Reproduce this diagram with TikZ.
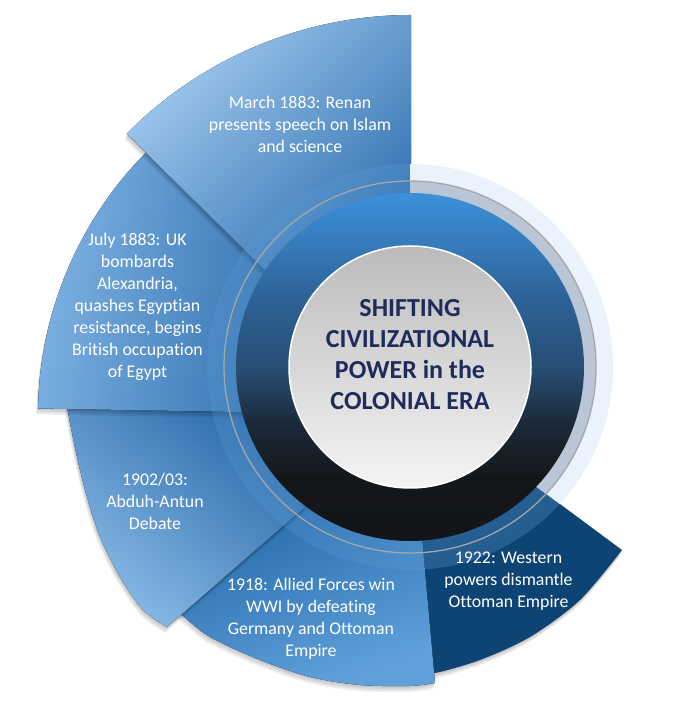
\documentclass[tikz,border=0pt]{standalone}
\usepackage{fontspec}
\setmainfont{Carlito}[RawFeature={-liga}]
\definecolor{ddA}{HTML}{131518}
\definecolor{ddB}{HTML}{141719}
\definecolor{ddC}{HTML}{1B2A3A}
\definecolor{ddD}{HTML}{274F75}
\definecolor{ddE}{HTML}{2D6296}
\definecolor{ddF}{HTML}{3579B8}
\definecolor{ddG}{HTML}{3C90DA}
\pgfdeclareverticalshading{darkdisk}{100bp}{color(0bp)=(ddA); color(25bp)=(ddA); color(34bp)=(ddB); color(42bp)=(ddC); color(50bp)=(ddD); color(60bp)=(ddE); color(67bp)=(ddF); color(75bp)=(ddG); color(100bp)=(ddG)}
\definecolor{navy}{HTML}{1F2B5B}
\definecolor{paleblue}{HTML}{EAF2FC}
\definecolor{grayband}{HTML}{BAC6D6}
\definecolor{grayline}{HTML}{A6A6A6}
\definecolor{bandblue}{HTML}{5B9BD5}
\definecolor{sfive}{HTML}{0E4474}
\definecolor{sonelight}{HTML}{9CC6EC}
\definecolor{sonedark}{HTML}{1358A0}
\definecolor{stwolight}{HTML}{7DB1E2}
\definecolor{sdark}{HTML}{11559A}
\definecolor{sthreelight}{HTML}{86B7E4}
\definecolor{sfourlight}{HTML}{5FA0DA}
\definecolor{sfourdark}{HTML}{0F5597}
\definecolor{innertop}{HTML}{BBBBBB}
\definecolor{innerbot}{HTML}{F4F4F4}
\tikzset{
  evt/.style={text=white, align=center, inner sep=0pt, font=\fontsize{17.8}{22}\selectfont},
  titletext/.style={text=navy, align=center, inner sep=0pt, font=\fontsize{26}{31}\selectfont\bfseries},
  shad/.style={fill=black, opacity=0.06},
}
\newcommand{\secOne}{(411,302) -- (411,702) arc[start angle=90, end angle=135.3, radius=400] -- cycle}
\newcommand{\secTwo}{(411,302) -- ([shift={(133:373)}]411,302) arc[start angle=133, end angle=179, radius=373] -- cycle}
\newcommand{\secThree}{(411,302) -- plot[smooth] coordinates {(67,318) (68,305) (77,260) (87,220) (100,180) (120,140) (143,107) (167,90)} -- cycle}
\newcommand{\secFour}{(411,302) -- plot[smooth] coordinates {(172,110) (182,102) (210,80) (260,57) (310,40) (360,32) (410,31) (435,34)} -- cycle}
\newcommand{\secFive}{(411,302) -- (410,324) -- (537,230) -- plot[smooth] coordinates {(622,167) (580,117) (530,80) (480,57) (435,44) (420,46)} -- cycle}
\newcommand{\shadowsOf}[1]{%
  \fill[shad, shift={(-0.5,-1.5)}] #1;
  \fill[shad, shift={(-1,-3)}] #1;
  \fill[shad, shift={(-1.5,-4.5)}] #1;
  \fill[shad, shift={(-2,-6)}] #1;
}
\begin{document}
\begin{tikzpicture}[x=1pt,y=1pt]
\useasboundingbox (0,0) rectangle (678,717);
% sectors, drawn from the bottom one up
\shadowsOf{\secFive}
\fill[sfive] \secFive;
\shadowsOf{\secFour}
\fill[top color=sfourlight, bottom color=sfourdark, shading angle=200] \secFour;
\shadowsOf{\secThree}
\fill[top color=sthreelight, bottom color=sdark, shading angle=140] \secThree;
\shadowsOf{\secTwo}
\fill[top color=stwolight, bottom color=sdark, shading angle=80] \secTwo;
\shadowsOf{\secOne}
\fill[top color=sonelight, bottom color=sonedark, shading angle=45] \secOne;
% inner blue band over the sectors
\begin{scope}
  \clip (410,800) -- (410,324) -- (800,35) -- (800,-100) -- (-100,-100) -- (-100,800) -- cycle;
  \fill[bandblue, opacity=0.3] (410,350) circle[radius=203];
\end{scope}
% pale ring and grey band on the right
\begin{scope}
  \clip (410,800) -- (800,800) -- (800,35) -- (410,324) -- cycle;
  \fill[paleblue] (410,350) circle[radius=203];
  \fill[grayband] (410,350) circle[radius=186];
\end{scope}
\draw[grayline, line width=1.3pt] (410,350) circle[radius=186];
% dark disk
\shade[shading=darkdisk] (410,350) circle[radius=174];
% centre disk
\fill[top color=innertop, bottom color=innerbot] (410,350) circle[radius=121];
\draw[white, line width=1.5pt] (410,350) circle[radius=121];
% texts
\node[titletext] (ctitle) at (410,362) {SHIFTING\\CIVILIZATIONAL\\POWER in the\\COLONIAL ERA};
\node[evt] (tone) at (300,593) {March 1883: Renan\\presents speech on Islam\\and science};
\node[evt] (ttwo) at (137.5,410) {July 1883: UK\\bombards\\Alexandria,\\quashes Egyptian\\resistance, begins\\British occupation\\of Egypt};
\node[evt] (tthree) at (155,216) {1902/03:\\Abduh-Antun\\Debate};
\node[evt] (tfour) at (311,98) {1918: Allied Forces win\\WWI by defeating\\Germany and Ottoman\\Empire};
\node[evt] (tfive) at (508.5,136) {1922: Western\\powers dismantle\\Ottoman Empire};
\end{tikzpicture}
\end{document}
